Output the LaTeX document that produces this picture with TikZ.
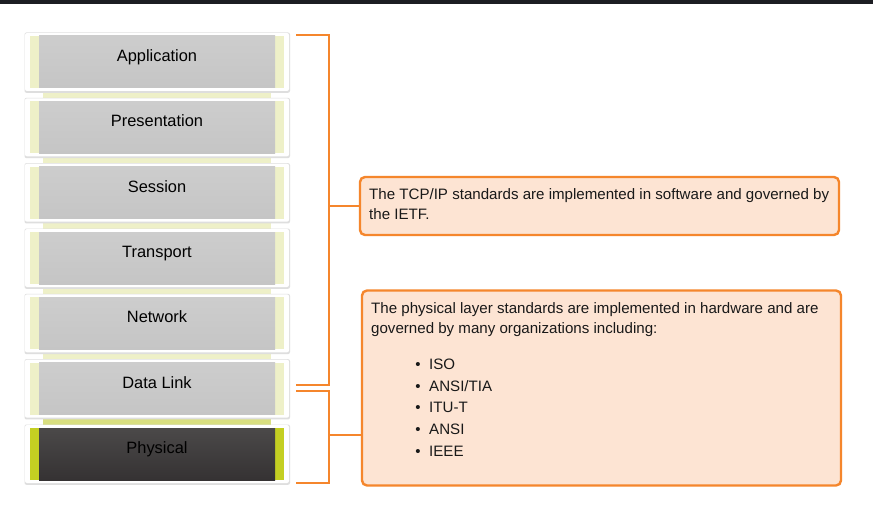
\documentclass[tikz,border=0pt]{standalone}
\usepackage{fontspec}
\setmainfont{Liberation Sans}
\definecolor{orng}{HTML}{F5862C}
\definecolor{boxfill}{HTML}{FDE4D3}
\definecolor{topbar}{HTML}{1C1D22}
\definecolor{lstrip}{HTML}{EEF0C8}
\definecolor{dstrip}{HTML}{C4CF22}
\definecolor{link}{HTML}{EEF0C8}
\definecolor{linkd}{HTML}{D9DF80}
\definecolor{grayA}{HTML}{CDCDCD}
\definecolor{grayB}{HTML}{C5C5C5}
\definecolor{darkA}{HTML}{4B4949}
\definecolor{darkB}{HTML}{353233}
\tikzset{
  card/.style={rectangle, fill=white, rounded corners=2pt, inner sep=0pt,
    minimum width=264, minimum height=58},
  cardshadow/.style={fill=black!13, rounded corners=2pt},
  stripbox/.style={rectangle, inner sep=0pt, minimum width=254, minimum height=52},
  face/.style={rectangle, inner sep=0pt, minimum width=236, minimum height=52},
  lbl/.style={inner sep=0pt, font=\fontsize{16.4}{19}\selectfont, text=black},
  infobox/.style={rectangle, draw=orng, line width=2.4pt, fill=boxfill,
    rounded corners=5pt, inner sep=0pt, minimum width=479},
  txt/.style={inner sep=0pt, font=\fontsize{15.1}{19}\selectfont, text=black!90},
  brk/.style={draw=orng, line width=2.4pt, line join=miter}
}
\newcommand\osilayer[5]{% name, top, label, strip colour, face style
  \fill[cardshadow] (24.5,{#2-0.5}) rectangle (290,{#2+59.8});
  \node[card] (#1) at (157,{#2+29}) {};
  \node[stripbox, fill=#4] (#1-s) at (157,{#2+29}) {};
  \node[face, #5] (#1-f) at (157,{#2+29}) {};
  \node[lbl, anchor=base] (#1-t) at (157,{#2+28.6}) {#3};
}
\begin{document}
\begin{tikzpicture}[x=1pt,y=-1pt]
\useasboundingbox (0,0) rectangle (873,508);
\fill[white] (0,0) rectangle (873,508);
\fill[topbar] (0,0) rectangle (873,4);
% links between cards
\fill[link] (43,91) rectangle (271,99);
\fill[link] (43,156) rectangle (271,164);
\fill[link] (43,221) rectangle (271,230);
\fill[link] (43,287) rectangle (271,295);
\fill[link] (43,352) rectangle (271,360);
\fill[linkd] (43,417) rectangle (271,426);
% layers
\osilayer{app}{33}{Application}{lstrip}{top color=grayA, bottom color=grayB}
\osilayer{pre}{98.33}{Presentation}{lstrip}{top color=grayA, bottom color=grayB}
\osilayer{ses}{163.67}{Session}{lstrip}{top color=grayA, bottom color=grayB}
\osilayer{tra}{229}{Transport}{lstrip}{top color=grayA, bottom color=grayB}
\osilayer{net}{294.33}{Network}{lstrip}{top color=grayA, bottom color=grayB}
\osilayer{dl}{359.67}{Data Link}{lstrip}{top color=grayA, bottom color=grayB}
\osilayer{phy}{425}{Physical}{dstrip}{top color=darkA, bottom color=darkB}
% info boxes
\node[infobox, minimum height=58] (tcp) at (599.5,206) {};
\node[infobox, minimum height=195] (phb) at (601.5,388) {};
\node[txt, anchor=base west] (tcp1) at (369,200) {The TCP/IP standards are implemented in software and governed by};
\node[txt, anchor=base west] (tcp2) at (369,219.5) {the IETF.};
\node[txt, anchor=base west] (ph1) at (371,313) {The physical layer standards are implemented in hardware and are};
\node[txt, anchor=base west] (ph2) at (371,333) {governed by many organizations including:};
\foreach \n/\t/\y in {b1/ISO/369, b2/ANSI\slash TIA/391, b3/ITU-T/412.5, b4/ANSI/434, b5/IEEE/456}{
  \node[txt, anchor=base, font=\fontsize{15}{15}\selectfont] (\n-d) at (418,\y) {•};
  \node[txt, anchor=base west] (\n) at (429,\y) {\t};
}
% brackets
\coordinate (b1a) at (296,35);
\coordinate (b1b) at (296,385);
\coordinate (b1m) at (329,206);
\coordinate (b2a) at (296,391);
\coordinate (b2b) at (296,483);
\coordinate (b2m) at (329,435);
\draw[brk] (b1a) -- (329,35) -- (329,385) -- (b1b);
\draw[brk] (b1m) -- (tcp.west);
\draw[brk] (b2a) -- (329,391) -- (329,483) -- (b2b);
\draw[brk] (b2m) -- (phb.west |- b2m);
\end{tikzpicture}
\end{document}
